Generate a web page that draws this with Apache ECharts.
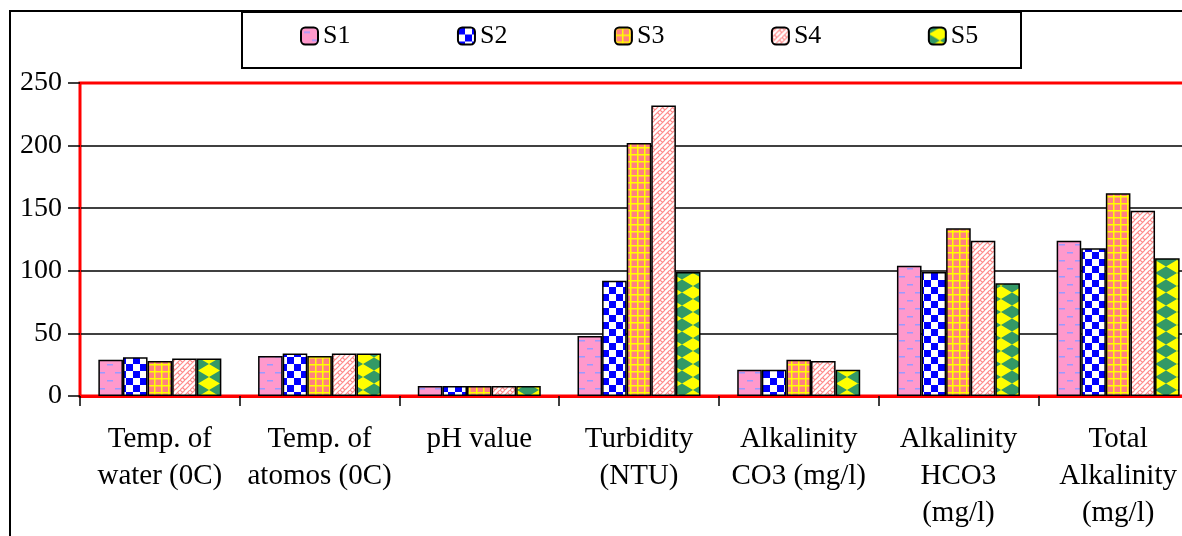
<!DOCTYPE html>
<html>
<head>
<meta charset="utf-8">
<script src="https://cdn.jsdelivr.net/npm/echarts@6/dist/echarts.min.js"></script>
<style>html,body{margin:0;padding:0;background:#fff;}#c{width:1182px;height:536px;}</style>
</head>
<body>
<div id="c"></div>
<script>
const categories = ['Temp. of\nwater (0C)', 'Temp. of\natomos (0C)', 'pH value', 'Turbidity\n(NTU)', 'Alkalinity\nCO3 (mg/l)', 'Alkalinity\nHCO3\n(mg/l)', 'Total\nAlkalinity\n(mg/l)'];
const seriesNames = ['S1', 'S2', 'S3', 'S4', 'S5'];
const s1 = [29, 32, 8, 48, 21, 104, 124];
const s2 = [31, 34, 8, 92, 21, 99, 118];
const s3 = [28, 32, 8, 202, 29, 134, 162];
const s4 = [30, 34, 8, 232, 28, 124, 148];
const s5 = [30, 34, 8, 99, 21, 90, 110];
const yTicks = [0, 50, 100, 150, 200, 250];
const seriesValues = [s1, s2, s3, s4, s5];

function tile(w, h, draw) {
  const c = document.createElement('canvas');
  c.width = w; c.height = h;
  draw(c.getContext('2d'), w, h);
  return { image: c, repeat: 'repeat' };
}
const patterns = [
  tile(16, 16, (g) => { g.fillStyle = '#ff99cc'; g.fillRect(0, 0, 16, 16); g.fillStyle = '#9a9aff'; g.fillRect(3, 4, 6, 1.5); g.fillRect(11, 12, 6, 1.5); g.fillRect(0, 12, 1, 1.5); }),
  tile(14, 14, (g) => { g.fillStyle = '#fff'; g.fillRect(0, 0, 14, 14); g.fillStyle = '#0000ff'; g.fillRect(0, 0, 7, 7); g.fillRect(7, 7, 7, 7); }),
  tile(7, 7, (g) => { g.fillStyle = '#ff8080'; g.fillRect(0, 0, 7, 7); g.fillStyle = '#ffff00'; g.fillRect(0, 0, 7, 1.5); g.fillRect(0, 0, 1.5, 7); }),
  tile(10, 10, (g) => { g.fillStyle = '#fff'; g.fillRect(0, 0, 10, 10); g.strokeStyle = '#ff8c8c'; g.lineWidth = 1.2;
    g.beginPath(); g.moveTo(0, 10); g.lineTo(10, 0); g.moveTo(-5, 10); g.lineTo(5, 0); g.moveTo(5, 10); g.lineTo(15, 0);
    g.moveTo(2.5, 7.5); g.lineTo(5, 10); g.moveTo(7.5, 2.5); g.lineTo(10, 5); g.moveTo(2.5, 2.5); g.lineTo(0, 0); g.stroke(); }),
  tile(22, 13, (g) => { g.fillStyle = '#339966'; g.fillRect(0, 0, 22, 13); g.fillStyle = '#ffff00';
    g.beginPath(); g.moveTo(11, 0); g.lineTo(22, 6.5); g.lineTo(11, 13); g.lineTo(0, 6.5); g.closePath(); g.fill(); })
];

const font = 'Liberation Serif';
const chart = echarts.init(document.getElementById('c'));
chart.setOption({
  animation: false,
  backgroundColor: '#fff',
  graphic: [
    { type: 'rect', shape: { x: 10, y: 11, width: 1400, height: 800 }, style: { fill: 'none', stroke: '#000', lineWidth: 2 }, z: 100 },
    { type: 'rect', shape: { x: 242, y: 12, width: 779, height: 56 }, style: { fill: 'none', stroke: '#000', lineWidth: 2 }, z: 100 }
  ],
  legend: {
    left: 295, top: 18, itemWidth: 17, itemHeight: 17, itemGap: 106.5,
    textStyle: { fontFamily: font, fontSize: 26, color: '#000' },
    data: seriesNames
  },
  grid: { left: 80, top: 83, width: 1118, bottom: 140, outerBoundsMode: 'none', show: true, borderColor: '#ff0000', borderWidth: 3, containLabel: false },
  xAxis: {
    type: 'category', data: categories,
    axisLine: { lineStyle: { color: '#ff0000', width: 3 } },
    axisTick: { show: true, length: 10, lineStyle: { color: '#000', width: 1.5 } },
    axisLabel: { fontFamily: font, fontSize: 29, color: '#000', lineHeight: 37, margin: 25, interval: 0 }
  },
  yAxis: {
    type: 'value', min: yTicks[0], max: yTicks[yTicks.length - 1], interval: 50,
    axisLine: { show: true, lineStyle: { color: '#ff0000', width: 2 } },
    axisTick: { show: true, length: 12, lineStyle: { color: '#000', width: 1.5 } },
    axisLabel: { fontFamily: font, fontSize: 28, color: '#000', margin: 18 },
    splitLine: { lineStyle: { color: ['#000', '#000', '#000', '#000', '#000', '#ff0000'], width: 1.5 } }
  },
  series: seriesNames.map((n, i) => ({
    name: n, type: 'bar', data: seriesValues[i],
    barGap: 0, barCategoryGap: '23%',
    itemStyle: { color: patterns[i], borderColor: '#000', borderWidth: 1.5 }
  }))
});
</script>
</body>
</html>
